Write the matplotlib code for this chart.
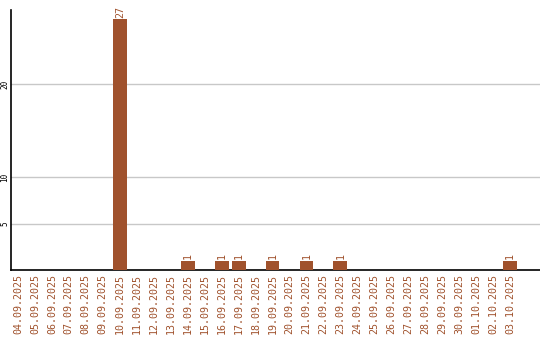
import matplotlib.pyplot as plt

dates = ['04.09.2025', '05.09.2025', '06.09.2025', '07.09.2025', '08.09.2025',
         '09.09.2025', '10.09.2025', '11.09.2025', '12.09.2025', '13.09.2025',
         '14.09.2025', '15.09.2025', '16.09.2025', '17.09.2025', '18.09.2025',
         '19.09.2025', '20.09.2025', '21.09.2025', '22.09.2025', '23.09.2025',
         '24.09.2025', '25.09.2025', '26.09.2025', '27.09.2025', '28.09.2025',
         '29.09.2025', '30.09.2025', '01.10.2025', '02.10.2025', '03.10.2025']
counts = [0, 0, 0, 0, 0, 0, 27, 0, 0, 0,
          1, 0, 1, 1, 0, 1, 0, 1, 0, 1,
          0, 0, 0, 0, 0, 0, 0, 0, 0, 1]
yticks = [5, 10, 20]

brown = '#A0522D'
plt.rcParams['font.family'] = 'DejaVu Sans Mono'

fig = plt.figure(figsize=(5.4, 3.4), dpi=100)
ax = fig.add_axes([11 / 540, 70 / 340, 529 / 540, 260 / 340])

x = list(range(len(dates)))
ax.bar(x, counts, width=0.82, color=brown, zorder=3)
for xi, c in zip(x, counts):
    if c > 0:
        ax.text(xi, c + 0.15, str(c), rotation=90, ha='center', va='bottom',
                color=brown, fontsize=7.2)

ax.set_xlim(-0.41, 30.76)
ax.set_ylim(0, 28)
ax.set_yticks(yticks)
ax.set_yticklabels([str(t) for t in yticks], rotation=90, va='center', fontsize=5.5)
ax.set_xticks(x)
ax.set_xticklabels(dates, rotation=90, color=brown, fontsize=7.2)
ax.tick_params(axis='x', length=0, pad=3)
ax.tick_params(axis='y', length=0, pad=1)
ax.grid(axis='y', color='#c8c8c8', linewidth=1, zorder=0)
for s in ['top', 'right']:
    ax.spines[s].set_visible(False)
ax.spines['left'].set_linewidth(1.2)
ax.spines['bottom'].set_linewidth(1.2)

fig.savefig('out.png', dpi=100)
